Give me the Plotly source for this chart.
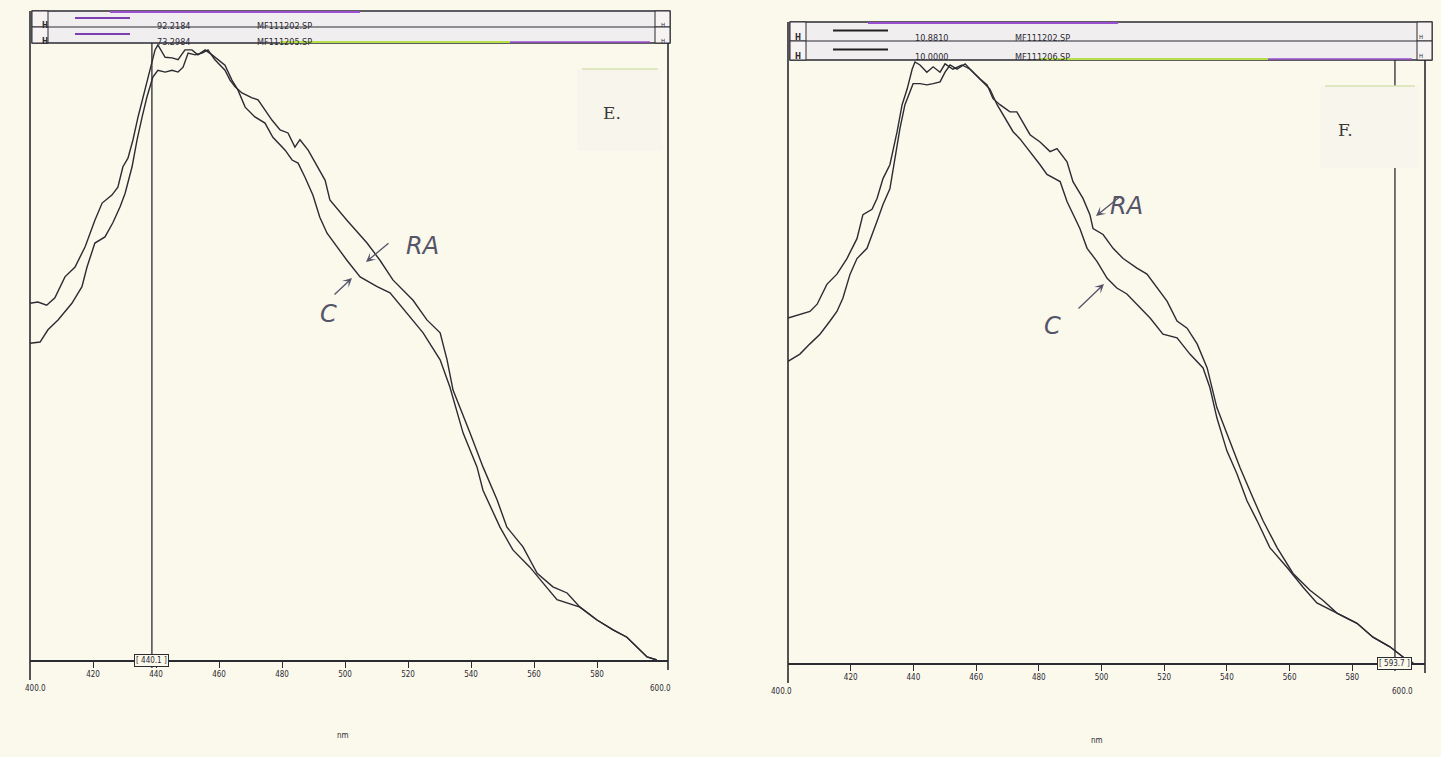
import plotly.graph_objects as go

W, H = 1441, 757

# ---------------- data (wavelength nm, relative intensity %) ----------------
# Panel E
e_c_nm = [400.0, 402.5, 405.3, 407.9, 411.1, 414.3, 417.5, 420.6, 422.9, 426.0, 427.9, 429.5, 431.1,
          432.7, 434.3, 435.9, 438.1, 439.7, 440.6, 442.9, 445.1, 447.0, 449.2, 451.4, 453.3, 455.6,
          457.8, 459.7, 461.9, 464.1, 466.0, 468.3, 471.4, 474.6, 477.1, 481.0, 483.2, 485.1, 487.3,
          489.8, 492.0, 494.3, 500.6, 504.8, 510.2, 514.3, 519.7, 524.8, 530.2, 533.3, 537.5, 541.9,
          543.8, 549.2, 553.3, 558.7, 562.9, 567.3, 574.6, 580.0, 585.1, 589.5, 595.9, 599.0]
e_c_val = [58.0, 58.2, 57.7, 58.9, 62.3, 63.9, 67.2, 71.5, 74.3, 75.6, 76.9, 80.2, 81.6,
           84.6, 88.3, 91.5, 96.4, 99.2, 100.0, 98.0, 97.9, 97.6, 99.2, 99.2, 98.4, 99.2,
           98.4, 97.6, 96.7, 94.3, 92.7, 89.9, 88.3, 87.3, 85.0, 82.9, 81.3, 80.8, 78.5,
           75.6, 72.0, 69.4, 65.0, 62.3, 60.7, 59.7, 56.4, 53.2, 48.8, 44.4, 36.9, 31.4,
           27.6, 21.6, 17.9, 15.1, 12.5, 9.8, 8.6, 6.5, 4.9, 3.7, 0.5, 0.0]
e_ra_nm = [400.0, 403.2, 405.7, 408.9, 413.3, 416.5, 418.1, 420.6, 423.8, 426.3, 428.6, 430.2, 432.4,
           434.0, 435.6, 437.1, 439.0, 440.6, 442.9, 445.1, 447.0, 448.6, 450.2, 452.4, 454.6, 456.5,
           458.7, 461.9, 463.5, 465.1, 467.3, 470.5, 472.4, 474.6, 476.8, 479.4, 481.9, 484.1, 485.7,
           488.3, 491.4, 493.7, 495.2, 500.6, 507.0, 511.1, 515.2, 521.6, 526.0, 530.2, 532.4, 534.3,
           539.7, 543.8, 548.3, 551.4, 556.5, 561.0, 566.0, 570.5, 574.6, 580.0, 585.1, 589.5, 595.9, 599.0]
e_ra_val = [51.5, 51.7, 53.7, 55.3, 58.0, 60.7, 63.9, 67.8, 68.8, 71.1, 73.7, 75.9, 80.2,
            84.6, 88.3, 91.5, 94.8, 95.9, 95.6, 95.9, 95.6, 96.4, 98.7, 98.4, 98.7, 99.2,
            97.6, 95.9, 94.3, 93.2, 92.2, 91.4, 91.1, 89.4, 87.8, 86.2, 85.7, 83.4, 84.6,
            82.9, 80.2, 78.0, 74.8, 71.5, 67.8, 65.0, 61.8, 58.5, 55.3, 53.2, 48.8, 43.9,
            36.9, 31.4, 26.0, 21.6, 18.4, 14.1, 11.9, 10.9, 8.6, 6.5, 4.9, 3.7, 0.5, 0.0]

# Panel F
f_c_nm = [400.0, 403.8, 407.0, 409.3, 412.4, 415.6, 418.8, 422.0, 423.9, 426.8, 428.4, 430.3, 432.5,
          434.8, 436.4, 438.0, 439.6, 440.5, 442.1, 444.3, 446.3, 448.5, 450.1, 452.6, 455.5, 458.1,
          461.2, 464.4, 466.7, 469.9, 471.8, 474.0, 477.2, 480.4, 482.6, 486.8, 489.0, 493.1, 495.4,
          498.6, 501.8, 504.9, 508.1, 511.3, 515.5, 519.6, 524.1, 528.2, 532.4, 534.6, 536.8, 540.0,
          543.2, 546.4, 549.6, 553.7, 559.2, 564.3, 568.7, 575.1, 581.5, 586.6, 592.0, 597.4, 599.4]
f_c_val = [57.4, 58.0, 58.5, 59.7, 63.0, 64.7, 67.3, 70.6, 74.6, 75.5, 77.3, 80.6, 82.9,
           88.4, 92.9, 95.5, 98.8, 100.0, 99.5, 98.3, 99.2, 98.3, 99.7, 98.8, 99.5, 98.8,
           97.2, 95.5, 92.9, 90.0, 88.4, 87.2, 85.1, 82.9, 81.3, 80.1, 76.8, 72.3, 69.0,
           66.8, 64.0, 62.4, 61.4, 59.7, 57.4, 54.7, 54.1, 51.4, 49.1, 45.8, 40.8, 35.3,
           31.5, 27.0, 23.7, 19.2, 15.9, 12.6, 10.0, 8.3, 6.6, 4.3, 2.7, 0.5, 0.0]
f_ra_nm = [400.0, 403.8, 407.0, 410.2, 413.4, 415.6, 417.5, 419.8, 422.0, 425.2, 428.4, 430.3, 432.5,
           434.1, 435.7, 437.3, 438.9, 439.9, 442.1, 444.3, 446.3, 448.5, 450.1, 451.7, 453.9, 456.5,
           458.1, 461.2, 463.5, 465.4, 467.6, 470.8, 473.0, 475.0, 477.2, 480.4, 483.6, 485.8, 489.0,
           490.9, 494.1, 496.3, 497.3, 500.5, 503.7, 506.9, 511.3, 514.5, 517.7, 520.9, 524.1, 527.3,
           530.5, 533.7, 536.8, 541.0, 544.2, 548.3, 551.5, 556.0, 561.1, 566.5, 570.7, 575.1, 581.5,
           586.6, 592.0, 597.4, 599.4]
f_ra_val = [50.2, 51.4, 53.1, 54.7, 56.9, 58.5, 60.7, 64.7, 67.3, 69.0, 73.5, 76.3, 78.9,
            83.9, 88.9, 92.9, 95.0, 96.4, 96.4, 96.2, 96.4, 96.7, 98.3, 99.5, 98.8, 99.7,
            98.8, 97.2, 96.2, 93.9, 92.9, 91.7, 91.7, 90.0, 87.9, 86.7, 85.1, 85.6, 83.4,
            80.1, 77.3, 74.6, 72.3, 71.3, 69.0, 67.3, 65.7, 64.7, 62.4, 60.2, 56.9, 55.7,
            53.1, 49.1, 42.5, 37.0, 32.5, 27.5, 23.7, 19.2, 14.9, 12.1, 10.4, 8.3, 6.6,
            4.3, 2.7, 0.5, 0.0]

tick_vals = [420, 440, 460, 480, 500, 520, 540, 560, 580]
tick_text = ["420", "440", "460", "480", "500", "520", "540", "560", "580"]
header_e = [("92.2184", "MF111202.SP"), ("73.2984", "MF111205.SP")]
header_f = [("10.8810", "MF111202.SP"), ("10.0000", "MF111206.SP")]

# ---------------- layout helpers ----------------
def fx(x):
    return x / W

def fy(y):
    return 1 - y / H

BG = "#fbf8ec"
INK = "#2b2b33"
FONT = "Liberation Sans Narrow, DejaVu Sans Condensed, Arial Narrow, sans-serif"

fig = go.Figure()
line_style = dict(color=INK, width=1.4)
fig.add_trace(go.Scatter(x=e_c_nm, y=e_c_val, mode="lines", line=line_style, name="C", xaxis="x", yaxis="y"))
fig.add_trace(go.Scatter(x=e_ra_nm, y=e_ra_val, mode="lines", line=line_style, name="RA", xaxis="x", yaxis="y"))
fig.add_trace(go.Scatter(x=f_c_nm, y=f_c_val, mode="lines", line=line_style, name="C", xaxis="x2", yaxis="y2"))
fig.add_trace(go.Scatter(x=f_ra_nm, y=f_ra_val, mode="lines", line=line_style, name="RA", xaxis="x2", yaxis="y2"))

panels = [
    dict(l=30, r=668, t=43, b=660, ht=11, hr=670, x600=660, ax="x", ay="y",
         cursor=438.7, clabel="[ 440.1 ]", letter="E.", header=header_e, hline="#7a3fb0",
         ra_txt=(404, 230), ra_tail=(390, 242), ra_head=(366, 262),
         c_txt=(318, 314), c_tail=(333, 296), c_head=(352, 278), nm=(335, 742), let_x=612),
    dict(l=788, r=1425, t=60, b=663, ht=22, hr=1432, x600=1415, ax="x2", ay="y2",
         cursor=593.6, clabel="[ 593.7 ]", letter="F.", header=header_f, hline="#222222",
         ra_txt=(1145, 190), ra_tail=(1122, 195), ra_head=(1096, 216),
         c_txt=(1063, 326), c_tail=(1077, 310), c_head=(1104, 284), nm=(1105, 747), let_x=1355),
]

layout_axes = {}
shapes = []
annots = []
for i, p in enumerate(panels):
    sfx = "" if i == 0 else "2"
    ppn = (p["x600"] - p["l"]) / 200.0
    xmax = 400 + (p["r"] - p["l"]) / ppn
    ymax = 100 * (p["b"] - p["t"]) / (p["b"] - (p["t"] + 2))
    layout_axes["xaxis" + sfx] = dict(
        domain=[fx(p["l"]), fx(p["r"])], range=[400, xmax], anchor="y" + sfx,
        tickvals=tick_vals, ticktext=tick_text, ticks="outside", ticklen=6, tickcolor=INK,
        tickfont=dict(size=8, color=INK, family=FONT), showgrid=False, zeroline=False,
        showline=True, linecolor=INK, linewidth=1.5)
    layout_axes["yaxis" + sfx] = dict(
        domain=[fy(p["b"]), fy(p["t"])], range=[0, ymax], anchor="x" + sfx,
        showticklabels=False, showgrid=False, zeroline=False, showline=False, ticks="")

    # frame
    shapes.append(dict(type="line", xref="paper", yref="paper", x0=fx(p["l"]), x1=fx(p["l"]),
                       y0=fy(p["ht"]), y1=fy(p["b"] + 20), line=dict(color=INK, width=1.6)))
    shapes.append(dict(type="line", xref="paper", yref="paper", x0=fx(p["r"]), x1=fx(p["r"]),
                       y0=fy(p["ht"]), y1=fy(p["b"] + 10), line=dict(color=INK, width=1.6)))
    # header box
    hb = p["t"]
    mid = (p["ht"] + hb) / 2
    shapes.append(dict(type="rect", xref="paper", yref="paper", x0=fx(p["l"] + 2), x1=fx(p["hr"]),
                       y0=fy(hb), y1=fy(p["ht"]), line=dict(color=INK, width=1.4), fillcolor="#f1eef0"))
    shapes.append(dict(type="line", xref="paper", yref="paper", x0=fx(p["l"] + 2), x1=fx(p["hr"]),
                       y0=fy(mid), y1=fy(mid), line=dict(color=INK, width=1.2)))
    # coloured scan artefacts on header edges
    shapes.append(dict(type="line", xref="paper", yref="paper", x0=fx(p["l"] + 80), x1=fx(p["l"] + 330),
                       y0=fy(p["ht"] + 1), y1=fy(p["ht"] + 1), line=dict(color="#9b4fd0", width=2)))
    shapes.append(dict(type="line", xref="paper", yref="paper", x0=fx(p["l"] + 250), x1=fx(p["l"] + 480),
                       y0=fy(hb - 1), y1=fy(hb - 1), line=dict(color="#b6e04a", width=2)))
    shapes.append(dict(type="line", xref="paper", yref="paper", x0=fx(p["l"] + 480), x1=fx(p["hr"] - 20),
                       y0=fy(hb - 1), y1=fy(hb - 1), line=dict(color="#9b4fd0", width=1.5)))
    for row in range(2):
        y0 = p["ht"] if row == 0 else mid
        y1 = mid if row == 0 else hb
        yc = (y0 + y1) / 2
        shapes.append(dict(type="rect", xref="paper", yref="paper", x0=fx(p["l"] + 2), x1=fx(p["l"] + 18),
                           y0=fy(y1), y1=fy(y0), line=dict(color=INK, width=1), fillcolor="#f6f3f2"))
        shapes.append(dict(type="rect", xref="paper", yref="paper", x0=fx(p["hr"] - 15), x1=fx(p["hr"]),
                           y0=fy(y1), y1=fy(y0), line=dict(color=INK, width=1), fillcolor="#f6f3f2"))
        annots.append(dict(x=fx(p["l"] + 10), y=fy(yc), xref="paper", yref="paper", text="<b>H</b>",
                           showarrow=False, font=dict(size=8, color=INK, family=FONT)))
        annots.append(dict(x=fx(p["hr"] - 7.5), y=fy(yc), xref="paper", yref="paper", text="H",
                           showarrow=False, font=dict(size=6, color=INK, family=FONT)))
        shapes.append(dict(type="line", xref="paper", yref="paper", x0=fx(p["l"] + 45), x1=fx(p["l"] + 100),
                           y0=fy(yc - 1), y1=fy(yc - 1), line=dict(color=p["hline"], width=2)))
        num, fname = p["header"][row]
        annots.append(dict(x=fx(p["l"] + 125), y=fy(yc), xref="paper", yref="paper", text=num,
                           showarrow=False, xanchor="left", font=dict(size=9, color=INK, family=FONT)))
        annots.append(dict(x=fx(p["l"] + 225), y=fy(yc), xref="paper", yref="paper", text=fname,
                           showarrow=False, xanchor="left", font=dict(size=9, color=INK, family=FONT)))

    xa = p["ax"]
    # cursor line
    shapes.append(dict(type="line", xref=xa, yref="paper", x0=p["cursor"], x1=p["cursor"],
                       y0=fy(p["b"] + 8), y1=fy(p["t"]), line=dict(color=INK, width=1.3)))
    annots.append(dict(x=p["cursor"], y=fy(p["b"] - 6), xref=xa, yref="paper", text=p["clabel"],
                       showarrow=False, yanchor="top", bgcolor=BG, bordercolor=INK, borderwidth=1, borderpad=1,
                       font=dict(size=8, color=INK, family=FONT)))
    # end labels
    annots.append(dict(x=fx(p["l"] - 7), y=fy(p["b"] + 22), xref="paper", yref="paper", text="400.0",
                       showarrow=False, yanchor="top", font=dict(size=8, color=INK, family=FONT)))
    annots.append(dict(x=fx(p["x600"]), y=fy(p["b"] + 22), xref="paper", yref="paper", text="600.0",
                       showarrow=False, yanchor="top", font=dict(size=8, color=INK, family=FONT)))
    # faint letter box
    shapes.append(dict(type="rect", xref="paper", yref="paper", x0=fx(p["let_x"] - 35), x1=fx(p["r"] - 6),
                       y0=fy(p["t"] + 108), y1=fy(p["t"] + 26), line=dict(width=0), fillcolor="#f7f5ec"))
    shapes.append(dict(type="line", xref="paper", yref="paper", x0=fx(p["let_x"] - 30), x1=fx(p["r"] - 10),
                       y0=fy(p["t"] + 26), y1=fy(p["t"] + 26), line=dict(color="#d6e2b0", width=1.5)))
    annots.append(dict(x=fx(p["let_x"]), y=fy(p["t"] + 58), xref="paper", yref="paper", text=p["letter"],
                       showarrow=False, font=dict(size=17, color="#3a3a3a", family="DejaVu Serif, serif")))
    # handwritten labels
    hand = dict(size=24, color="#55556a", family="DejaVu Sans, sans-serif")
    annots.append(dict(x=fx(p["ra_txt"][0]), y=fy(p["ra_txt"][1]), xref="paper", yref="paper", text="<i>RA</i>",
                       showarrow=False, font=hand))
    annots.append(dict(x=fx(p["ra_head"][0]), y=fy(p["ra_head"][1]), xref="paper", yref="paper",
                       ax=p["ra_tail"][0] - p["ra_head"][0], ay=p["ra_tail"][1] - p["ra_head"][1],
                       axref="pixel", ayref="pixel", text="", showarrow=True,
                       arrowhead=3, arrowsize=1.2, arrowwidth=1.3, arrowcolor="#55556a"))
    annots.append(dict(x=fx(p["c_txt"][0]), y=fy(p["c_txt"][1]), xref="paper", yref="paper", text="<i>C</i>",
                       showarrow=False, font=hand))
    annots.append(dict(x=fx(p["c_head"][0]), y=fy(p["c_head"][1]), xref="paper", yref="paper",
                       ax=p["c_tail"][0] - p["c_head"][0], ay=p["c_tail"][1] - p["c_head"][1],
                       axref="pixel", ayref="pixel", text="", showarrow=True,
                       arrowhead=3, arrowsize=1.2, arrowwidth=1.3, arrowcolor="#55556a"))
    annots.append(dict(x=fx(p["nm"][0]), y=fy(p["nm"][1]), xref="paper", yref="paper", text="nm",
                       showarrow=False, font=dict(size=8, color=INK, family=FONT)))

fig.update_layout(
    width=W, height=H, margin=dict(l=0, r=0, t=0, b=0),
    paper_bgcolor=BG, plot_bgcolor=BG, showlegend=False,
    shapes=shapes, annotations=annots, **layout_axes)

page_fix = ("document.body.style.margin='0';document.body.style.padding='0';"
            "document.body.style.overflow='hidden';"
            "document.body.style.background='" + BG + "';"
            "document.documentElement.style.background='" + BG + "';")
fig.write_html("out.html", post_script=page_fix, config={"displayModeBar": False})
